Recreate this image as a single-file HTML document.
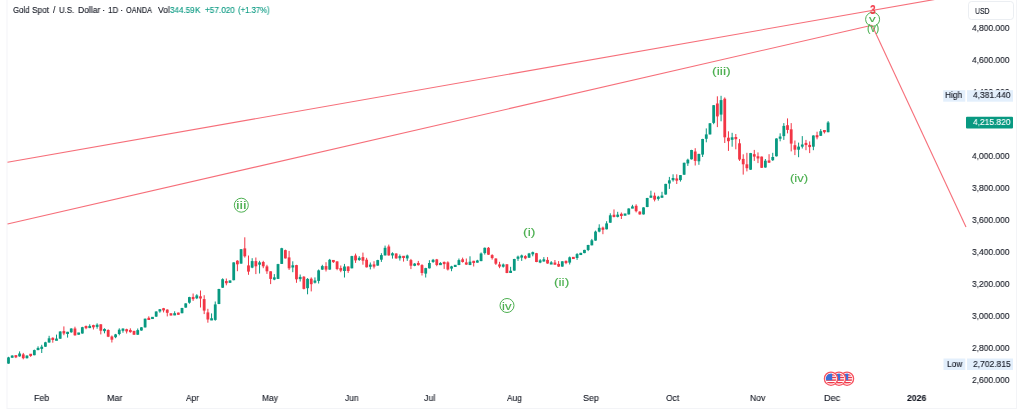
<!DOCTYPE html>
<html><head><meta charset="utf-8">
<style>
html,body{margin:0;padding:0;background:#fff;}
body{width:1024px;height:415px;overflow:hidden;position:relative;font-family:"Liberation Sans",sans-serif;}
#wrap{position:absolute;left:0;top:0;width:1024px;height:415px;filter:blur(0.3px);background:#fff;}
svg{position:absolute;left:0;top:0;}
.tx{position:absolute;white-space:pre;line-height:1;transform-origin:0 0;will-change:transform;-webkit-text-stroke:0.12px currentColor;}
.title{left:13px;top:4px;font-size:8.6px;color:#434651;line-height:12px;}
.title .g{color:#089981;}
.pl{position:absolute;right:14px;width:60px;text-align:right;font-size:8.8px;line-height:12px;color:#131722;}
.ml{position:absolute;top:392px;width:40px;text-align:center;font-size:8.6px;line-height:12px;color:#131722;}
.ml.b{font-weight:bold;}
.tag{position:absolute;font-size:8.8px;line-height:12px;color:#131722;}
.wl{position:absolute;font-size:10px;line-height:12px;color:#4caf50;text-align:center;width:30px;}
</style></head><body><div id="wrap">
<span class="tx" style="left:972.3px;top:87px;font-size:9.4px;color:#131722;transform:scale(0.899,1)">4,400.000</span>
<svg width="1024" height="415" viewBox="0 0 1024 415">
<rect x="7" y="-1" width="1009.5" height="409.5" fill="none" stroke="#f3f4f7" stroke-width="1"/>
<rect x="968.5" y="1.5" width="45" height="18" rx="3" fill="#fff" stroke="#e3e6ec" stroke-width="0.7"/>
<line x1="7.5" y1="162.3" x2="960" y2="-4.959000000000003" stroke="#f23645" stroke-width="1.1" stroke-opacity="0.72"/><line x1="7.5" y1="224.0" x2="872" y2="25.2" stroke="#f23645" stroke-width="1.1" stroke-opacity="0.72"/><line x1="872" y1="25.2" x2="966" y2="227" stroke="#f23645" stroke-width="1.1" stroke-opacity="0.72"/>
<rect x="8.00" y="356.80" width="1.0" height="6.90" fill="#089981"/>
<rect x="7.10" y="357.40" width="2.8" height="6.20" fill="#089981"/>
<rect x="11.69" y="355.30" width="1.0" height="2.40" fill="#089981"/>
<rect x="10.79" y="355.55" width="2.8" height="2.20" fill="#089981"/>
<rect x="15.38" y="355.50" width="1.0" height="2.60" fill="#f23645"/>
<rect x="14.48" y="355.15" width="2.8" height="2.20" fill="#f23645"/>
<rect x="19.08" y="351.40" width="1.0" height="5.30" fill="#089981"/>
<rect x="18.18" y="353.50" width="2.8" height="2.90" fill="#089981"/>
<rect x="22.77" y="352.90" width="1.0" height="6.40" fill="#f23645"/>
<rect x="21.87" y="354.40" width="2.8" height="3.80" fill="#f23645"/>
<rect x="26.46" y="355.30" width="1.0" height="3.20" fill="#089981"/>
<rect x="25.56" y="355.60" width="2.8" height="2.60" fill="#089981"/>
<rect x="30.15" y="354.30" width="1.0" height="2.60" fill="#f23645"/>
<rect x="29.25" y="353.75" width="2.8" height="2.20" fill="#f23645"/>
<rect x="33.84" y="349.60" width="1.0" height="5.70" fill="#089981"/>
<rect x="32.94" y="350.10" width="2.8" height="5.10" fill="#089981"/>
<rect x="37.54" y="346.30" width="1.0" height="3.90" fill="#089981"/>
<rect x="36.64" y="347.90" width="2.8" height="2.20" fill="#089981"/>
<rect x="41.23" y="344.80" width="1.0" height="8.20" fill="#089981"/>
<rect x="40.33" y="346.70" width="2.8" height="2.20" fill="#089981"/>
<rect x="44.92" y="341.80" width="1.0" height="5.10" fill="#089981"/>
<rect x="44.02" y="342.30" width="2.8" height="4.40" fill="#089981"/>
<rect x="48.61" y="335.80" width="1.0" height="6.90" fill="#089981"/>
<rect x="47.71" y="338.30" width="2.8" height="4.20" fill="#089981"/>
<rect x="52.30" y="337.30" width="1.0" height="5.40" fill="#f23645"/>
<rect x="51.40" y="337.80" width="2.8" height="2.20" fill="#f23645"/>
<rect x="56.00" y="334.60" width="1.0" height="5.60" fill="#089981"/>
<rect x="55.10" y="338.60" width="2.8" height="2.20" fill="#089981"/>
<rect x="59.69" y="331.30" width="1.0" height="7.60" fill="#089981"/>
<rect x="58.79" y="331.50" width="2.8" height="7.20" fill="#089981"/>
<rect x="63.38" y="326.40" width="1.0" height="8.80" fill="#f23645"/>
<rect x="62.48" y="331.10" width="2.8" height="2.40" fill="#f23645"/>
<rect x="67.07" y="331.80" width="1.0" height="5.80" fill="#089981"/>
<rect x="66.17" y="331.80" width="2.8" height="2.20" fill="#089981"/>
<rect x="70.76" y="328.30" width="1.0" height="4.40" fill="#089981"/>
<rect x="69.86" y="328.50" width="2.8" height="3.80" fill="#089981"/>
<rect x="74.46" y="326.70" width="1.0" height="9.00" fill="#f23645"/>
<rect x="73.56" y="328.50" width="2.8" height="6.80" fill="#f23645"/>
<rect x="78.15" y="332.80" width="1.0" height="1.90" fill="#089981"/>
<rect x="77.25" y="332.50" width="2.8" height="2.20" fill="#089981"/>
<rect x="81.84" y="326.80" width="1.0" height="6.90" fill="#089981"/>
<rect x="80.94" y="327.20" width="2.8" height="6.30" fill="#089981"/>
<rect x="85.53" y="325.50" width="1.0" height="3.70" fill="#f23645"/>
<rect x="84.63" y="326.00" width="2.8" height="2.20" fill="#f23645"/>
<rect x="89.22" y="324.30" width="1.0" height="3.80" fill="#089981"/>
<rect x="88.32" y="325.90" width="2.8" height="2.20" fill="#089981"/>
<rect x="92.92" y="324.70" width="1.0" height="4.80" fill="#f23645"/>
<rect x="92.02" y="325.10" width="2.8" height="2.20" fill="#f23645"/>
<rect x="96.61" y="323.30" width="1.0" height="5.40" fill="#089981"/>
<rect x="95.71" y="324.70" width="2.8" height="2.20" fill="#089981"/>
<rect x="100.30" y="324.30" width="1.0" height="10.10" fill="#f23645"/>
<rect x="99.40" y="324.30" width="2.8" height="6.40" fill="#f23645"/>
<rect x="103.99" y="328.30" width="1.0" height="5.00" fill="#089981"/>
<rect x="103.09" y="328.95" width="2.8" height="2.20" fill="#089981"/>
<rect x="107.68" y="329.30" width="1.0" height="7.80" fill="#f23645"/>
<rect x="106.78" y="330.00" width="2.8" height="6.70" fill="#f23645"/>
<rect x="111.38" y="335.50" width="1.0" height="7.00" fill="#f23645"/>
<rect x="110.48" y="336.50" width="2.8" height="3.20" fill="#f23645"/>
<rect x="115.07" y="333.90" width="1.0" height="4.30" fill="#089981"/>
<rect x="114.17" y="334.40" width="2.8" height="2.80" fill="#089981"/>
<rect x="118.76" y="328.30" width="1.0" height="7.00" fill="#089981"/>
<rect x="117.86" y="329.70" width="2.8" height="4.30" fill="#089981"/>
<rect x="122.45" y="328.30" width="1.0" height="4.40" fill="#089981"/>
<rect x="121.55" y="328.60" width="2.8" height="2.20" fill="#089981"/>
<rect x="126.14" y="328.70" width="1.0" height="4.80" fill="#f23645"/>
<rect x="125.24" y="329.20" width="2.8" height="2.20" fill="#f23645"/>
<rect x="129.84" y="328.30" width="1.0" height="4.40" fill="#f23645"/>
<rect x="128.94" y="329.95" width="2.8" height="2.20" fill="#f23645"/>
<rect x="133.53" y="330.80" width="1.0" height="4.10" fill="#f23645"/>
<rect x="132.63" y="330.90" width="2.8" height="3.80" fill="#f23645"/>
<rect x="137.22" y="328.50" width="1.0" height="6.40" fill="#089981"/>
<rect x="136.32" y="330.10" width="2.8" height="4.60" fill="#089981"/>
<rect x="140.91" y="327.10" width="1.0" height="3.60" fill="#089981"/>
<rect x="140.01" y="327.30" width="2.8" height="3.20" fill="#089981"/>
<rect x="144.60" y="318.60" width="1.0" height="8.90" fill="#089981"/>
<rect x="143.70" y="318.70" width="2.8" height="8.70" fill="#089981"/>
<rect x="148.30" y="316.30" width="1.0" height="3.20" fill="#f23645"/>
<rect x="147.40" y="317.80" width="2.8" height="2.20" fill="#f23645"/>
<rect x="151.99" y="317.30" width="1.0" height="1.40" fill="#089981"/>
<rect x="151.09" y="316.85" width="2.8" height="2.20" fill="#089981"/>
<rect x="155.68" y="311.30" width="1.0" height="5.60" fill="#089981"/>
<rect x="154.78" y="311.50" width="2.8" height="5.10" fill="#089981"/>
<rect x="159.37" y="309.10" width="1.0" height="3.60" fill="#089981"/>
<rect x="158.47" y="309.25" width="2.8" height="2.20" fill="#089981"/>
<rect x="163.06" y="307.90" width="1.0" height="4.50" fill="#f23645"/>
<rect x="162.16" y="308.20" width="2.8" height="2.20" fill="#f23645"/>
<rect x="166.76" y="309.30" width="1.0" height="7.10" fill="#f23645"/>
<rect x="165.86" y="309.60" width="2.8" height="3.20" fill="#f23645"/>
<rect x="170.45" y="313.30" width="1.0" height="2.20" fill="#f23645"/>
<rect x="169.55" y="313.30" width="2.8" height="2.20" fill="#f23645"/>
<rect x="174.14" y="311.30" width="1.0" height="3.90" fill="#089981"/>
<rect x="173.24" y="313.20" width="2.8" height="2.20" fill="#089981"/>
<rect x="177.83" y="312.60" width="1.0" height="2.10" fill="#f23645"/>
<rect x="176.93" y="312.60" width="2.8" height="2.20" fill="#f23645"/>
<rect x="181.52" y="307.80" width="1.0" height="5.50" fill="#089981"/>
<rect x="180.62" y="308.00" width="2.8" height="5.20" fill="#089981"/>
<rect x="185.22" y="303.30" width="1.0" height="4.40" fill="#089981"/>
<rect x="184.32" y="303.40" width="2.8" height="4.20" fill="#089981"/>
<rect x="188.91" y="296.80" width="1.0" height="6.90" fill="#089981"/>
<rect x="188.01" y="297.10" width="2.8" height="5.60" fill="#089981"/>
<rect x="192.60" y="293.50" width="1.0" height="7.40" fill="#f23645"/>
<rect x="191.70" y="296.95" width="2.8" height="2.20" fill="#f23645"/>
<rect x="196.29" y="294.20" width="1.0" height="4.90" fill="#089981"/>
<rect x="195.39" y="295.40" width="2.8" height="2.90" fill="#089981"/>
<rect x="199.98" y="290.50" width="1.0" height="17.00" fill="#f23645"/>
<rect x="199.08" y="296.30" width="2.8" height="2.20" fill="#f23645"/>
<rect x="203.68" y="295.20" width="1.0" height="18.90" fill="#f23645"/>
<rect x="202.78" y="299.10" width="2.8" height="11.50" fill="#f23645"/>
<rect x="207.37" y="308.80" width="1.0" height="13.90" fill="#f23645"/>
<rect x="206.47" y="312.40" width="2.8" height="7.10" fill="#f23645"/>
<rect x="211.06" y="313.40" width="1.0" height="6.70" fill="#089981"/>
<rect x="210.16" y="318.25" width="2.8" height="2.20" fill="#089981"/>
<rect x="214.75" y="301.50" width="1.0" height="19.20" fill="#089981"/>
<rect x="213.85" y="304.40" width="2.8" height="15.50" fill="#089981"/>
<rect x="218.44" y="288.80" width="1.0" height="15.40" fill="#089981"/>
<rect x="217.54" y="289.00" width="2.8" height="15.00" fill="#089981"/>
<rect x="222.14" y="278.30" width="1.0" height="9.60" fill="#089981"/>
<rect x="221.24" y="279.20" width="2.8" height="8.50" fill="#089981"/>
<rect x="225.83" y="278.50" width="1.0" height="6.80" fill="#f23645"/>
<rect x="224.93" y="281.05" width="2.8" height="2.20" fill="#f23645"/>
<rect x="229.52" y="280.30" width="1.0" height="2.70" fill="#089981"/>
<rect x="228.62" y="280.50" width="2.8" height="2.30" fill="#089981"/>
<rect x="233.21" y="262.30" width="1.0" height="18.00" fill="#089981"/>
<rect x="232.31" y="262.40" width="2.8" height="17.80" fill="#089981"/>
<rect x="236.90" y="260.20" width="1.0" height="11.00" fill="#f23645"/>
<rect x="236.00" y="260.70" width="2.8" height="3.60" fill="#f23645"/>
<rect x="240.60" y="249.10" width="1.0" height="14.60" fill="#089981"/>
<rect x="239.70" y="249.20" width="2.8" height="14.40" fill="#089981"/>
<rect x="244.29" y="237.30" width="1.0" height="20.30" fill="#f23645"/>
<rect x="243.39" y="248.40" width="2.8" height="7.90" fill="#f23645"/>
<rect x="247.98" y="255.50" width="1.0" height="19.30" fill="#f23645"/>
<rect x="247.08" y="265.40" width="2.8" height="6.20" fill="#f23645"/>
<rect x="251.67" y="258.20" width="1.0" height="10.00" fill="#089981"/>
<rect x="250.77" y="261.10" width="2.8" height="6.50" fill="#089981"/>
<rect x="255.36" y="257.50" width="1.0" height="16.60" fill="#f23645"/>
<rect x="254.46" y="261.10" width="2.8" height="5.20" fill="#f23645"/>
<rect x="259.06" y="260.80" width="1.0" height="12.70" fill="#089981"/>
<rect x="258.16" y="262.40" width="2.8" height="2.30" fill="#089981"/>
<rect x="262.75" y="260.80" width="1.0" height="7.40" fill="#f23645"/>
<rect x="261.85" y="262.00" width="2.8" height="4.30" fill="#f23645"/>
<rect x="266.44" y="264.80" width="1.0" height="9.10" fill="#f23645"/>
<rect x="265.54" y="266.40" width="2.8" height="4.90" fill="#f23645"/>
<rect x="270.13" y="271.30" width="1.0" height="12.80" fill="#f23645"/>
<rect x="269.23" y="271.30" width="2.8" height="7.60" fill="#f23645"/>
<rect x="273.82" y="274.10" width="1.0" height="6.10" fill="#089981"/>
<rect x="272.92" y="277.35" width="2.8" height="2.20" fill="#089981"/>
<rect x="277.52" y="263.80" width="1.0" height="15.20" fill="#089981"/>
<rect x="276.62" y="264.10" width="2.8" height="14.80" fill="#089981"/>
<rect x="281.21" y="247.80" width="1.0" height="16.20" fill="#089981"/>
<rect x="280.31" y="248.20" width="2.8" height="15.70" fill="#089981"/>
<rect x="284.90" y="249.60" width="1.0" height="8.90" fill="#f23645"/>
<rect x="284.00" y="250.10" width="2.8" height="8.30" fill="#f23645"/>
<rect x="288.59" y="250.90" width="1.0" height="19.00" fill="#f23645"/>
<rect x="287.69" y="257.40" width="2.8" height="10.90" fill="#f23645"/>
<rect x="292.28" y="261.30" width="1.0" height="10.90" fill="#089981"/>
<rect x="291.38" y="265.30" width="2.8" height="2.20" fill="#089981"/>
<rect x="295.98" y="264.80" width="1.0" height="18.00" fill="#f23645"/>
<rect x="295.08" y="265.10" width="2.8" height="14.20" fill="#f23645"/>
<rect x="299.67" y="274.50" width="1.0" height="7.00" fill="#089981"/>
<rect x="298.77" y="276.90" width="2.8" height="2.20" fill="#089981"/>
<rect x="303.36" y="276.10" width="1.0" height="13.30" fill="#f23645"/>
<rect x="302.46" y="276.70" width="2.8" height="12.20" fill="#f23645"/>
<rect x="307.05" y="278.10" width="1.0" height="16.20" fill="#089981"/>
<rect x="306.15" y="278.90" width="2.8" height="9.30" fill="#089981"/>
<rect x="310.74" y="277.40" width="1.0" height="14.00" fill="#f23645"/>
<rect x="309.84" y="278.70" width="2.8" height="5.50" fill="#f23645"/>
<rect x="314.44" y="277.40" width="1.0" height="6.10" fill="#089981"/>
<rect x="313.54" y="280.50" width="2.8" height="2.20" fill="#089981"/>
<rect x="318.13" y="269.50" width="1.0" height="14.00" fill="#089981"/>
<rect x="317.23" y="270.40" width="2.8" height="10.50" fill="#089981"/>
<rect x="321.82" y="264.80" width="1.0" height="5.10" fill="#089981"/>
<rect x="320.92" y="266.10" width="2.8" height="3.50" fill="#089981"/>
<rect x="325.51" y="262.20" width="1.0" height="9.30" fill="#f23645"/>
<rect x="324.61" y="266.10" width="2.8" height="3.50" fill="#f23645"/>
<rect x="329.20" y="258.90" width="1.0" height="10.80" fill="#089981"/>
<rect x="328.30" y="259.80" width="2.8" height="9.80" fill="#089981"/>
<rect x="332.90" y="260.20" width="1.0" height="2.70" fill="#f23645"/>
<rect x="332.00" y="259.95" width="2.8" height="2.20" fill="#f23645"/>
<rect x="336.59" y="261.30" width="1.0" height="8.90" fill="#f23645"/>
<rect x="335.69" y="261.40" width="2.8" height="7.60" fill="#f23645"/>
<rect x="340.28" y="265.50" width="1.0" height="6.70" fill="#f23645"/>
<rect x="339.38" y="268.10" width="2.8" height="2.50" fill="#f23645"/>
<rect x="343.97" y="263.90" width="1.0" height="13.60" fill="#089981"/>
<rect x="343.07" y="266.50" width="2.8" height="4.50" fill="#089981"/>
<rect x="347.66" y="266.30" width="1.0" height="6.60" fill="#f23645"/>
<rect x="346.76" y="266.50" width="2.8" height="4.50" fill="#f23645"/>
<rect x="351.36" y="255.80" width="1.0" height="12.60" fill="#089981"/>
<rect x="350.46" y="256.10" width="2.8" height="12.20" fill="#089981"/>
<rect x="355.05" y="253.60" width="1.0" height="9.30" fill="#f23645"/>
<rect x="354.15" y="255.50" width="2.8" height="4.90" fill="#f23645"/>
<rect x="358.74" y="256.20" width="1.0" height="4.70" fill="#089981"/>
<rect x="357.84" y="257.80" width="2.8" height="2.20" fill="#089981"/>
<rect x="362.43" y="252.60" width="1.0" height="12.10" fill="#f23645"/>
<rect x="361.53" y="257.10" width="2.8" height="3.60" fill="#f23645"/>
<rect x="366.12" y="257.80" width="1.0" height="9.70" fill="#f23645"/>
<rect x="365.22" y="259.70" width="2.8" height="7.60" fill="#f23645"/>
<rect x="369.82" y="262.50" width="1.0" height="6.90" fill="#089981"/>
<rect x="368.92" y="264.60" width="2.8" height="2.20" fill="#089981"/>
<rect x="373.51" y="261.20" width="1.0" height="7.30" fill="#f23645"/>
<rect x="372.61" y="264.40" width="2.8" height="2.20" fill="#f23645"/>
<rect x="377.20" y="259.80" width="1.0" height="5.90" fill="#089981"/>
<rect x="376.30" y="260.10" width="2.8" height="5.50" fill="#089981"/>
<rect x="380.89" y="253.20" width="1.0" height="8.70" fill="#089981"/>
<rect x="379.99" y="255.10" width="2.8" height="4.60" fill="#089981"/>
<rect x="384.58" y="245.60" width="1.0" height="9.90" fill="#089981"/>
<rect x="383.68" y="247.80" width="2.8" height="7.60" fill="#089981"/>
<rect x="388.28" y="244.60" width="1.0" height="11.10" fill="#f23645"/>
<rect x="387.38" y="246.50" width="2.8" height="8.90" fill="#f23645"/>
<rect x="391.97" y="252.30" width="1.0" height="6.30" fill="#089981"/>
<rect x="391.07" y="253.25" width="2.8" height="2.20" fill="#089981"/>
<rect x="395.66" y="253.30" width="1.0" height="5.40" fill="#f23645"/>
<rect x="394.76" y="253.50" width="2.8" height="4.90" fill="#f23645"/>
<rect x="399.35" y="254.50" width="1.0" height="6.10" fill="#089981"/>
<rect x="398.45" y="256.05" width="2.8" height="2.20" fill="#089981"/>
<rect x="403.04" y="256.20" width="1.0" height="5.40" fill="#f23645"/>
<rect x="402.14" y="255.80" width="2.8" height="2.20" fill="#f23645"/>
<rect x="406.74" y="254.60" width="1.0" height="6.30" fill="#089981"/>
<rect x="405.84" y="255.50" width="2.8" height="2.90" fill="#089981"/>
<rect x="410.43" y="258.90" width="1.0" height="10.20" fill="#f23645"/>
<rect x="409.53" y="260.10" width="2.8" height="5.60" fill="#f23645"/>
<rect x="414.12" y="263.10" width="1.0" height="3.10" fill="#089981"/>
<rect x="413.22" y="263.60" width="2.8" height="2.20" fill="#089981"/>
<rect x="417.81" y="260.90" width="1.0" height="4.70" fill="#f23645"/>
<rect x="416.91" y="262.95" width="2.8" height="2.20" fill="#f23645"/>
<rect x="421.50" y="264.20" width="1.0" height="11.30" fill="#f23645"/>
<rect x="420.60" y="265.10" width="2.8" height="7.90" fill="#f23645"/>
<rect x="425.20" y="267.80" width="1.0" height="9.70" fill="#089981"/>
<rect x="424.30" y="268.10" width="2.8" height="5.50" fill="#089981"/>
<rect x="428.89" y="260.20" width="1.0" height="8.30" fill="#089981"/>
<rect x="427.99" y="263.00" width="2.8" height="5.30" fill="#089981"/>
<rect x="432.58" y="258.90" width="1.0" height="4.00" fill="#089981"/>
<rect x="431.68" y="259.80" width="2.8" height="2.20" fill="#089981"/>
<rect x="436.27" y="258.90" width="1.0" height="7.30" fill="#f23645"/>
<rect x="435.37" y="259.40" width="2.8" height="5.60" fill="#f23645"/>
<rect x="439.96" y="262.20" width="1.0" height="2.70" fill="#089981"/>
<rect x="439.06" y="262.95" width="2.8" height="2.20" fill="#089981"/>
<rect x="443.66" y="261.50" width="1.0" height="7.40" fill="#f23645"/>
<rect x="442.76" y="261.95" width="2.8" height="2.20" fill="#f23645"/>
<rect x="447.35" y="261.30" width="1.0" height="9.20" fill="#f23645"/>
<rect x="446.45" y="262.40" width="2.8" height="7.10" fill="#f23645"/>
<rect x="451.04" y="265.80" width="1.0" height="5.40" fill="#089981"/>
<rect x="450.14" y="266.40" width="2.8" height="2.20" fill="#089981"/>
<rect x="454.73" y="265.10" width="1.0" height="1.60" fill="#089981"/>
<rect x="453.83" y="264.80" width="2.8" height="2.20" fill="#089981"/>
<rect x="458.42" y="258.50" width="1.0" height="6.70" fill="#089981"/>
<rect x="457.52" y="260.10" width="2.8" height="4.90" fill="#089981"/>
<rect x="462.12" y="257.60" width="1.0" height="5.00" fill="#f23645"/>
<rect x="461.22" y="259.30" width="2.8" height="2.70" fill="#f23645"/>
<rect x="465.81" y="258.50" width="1.0" height="6.40" fill="#f23645"/>
<rect x="464.91" y="262.40" width="2.8" height="2.20" fill="#f23645"/>
<rect x="469.50" y="256.30" width="1.0" height="8.90" fill="#089981"/>
<rect x="468.60" y="261.70" width="2.8" height="3.30" fill="#089981"/>
<rect x="473.19" y="260.80" width="1.0" height="5.70" fill="#f23645"/>
<rect x="472.29" y="260.80" width="2.8" height="2.20" fill="#f23645"/>
<rect x="476.88" y="259.80" width="1.0" height="2.80" fill="#089981"/>
<rect x="475.98" y="260.45" width="2.8" height="2.20" fill="#089981"/>
<rect x="480.58" y="252.50" width="1.0" height="8.70" fill="#089981"/>
<rect x="479.68" y="253.50" width="2.8" height="7.60" fill="#089981"/>
<rect x="484.27" y="247.50" width="1.0" height="7.10" fill="#089981"/>
<rect x="483.37" y="247.80" width="2.8" height="5.30" fill="#089981"/>
<rect x="487.96" y="247.00" width="1.0" height="7.90" fill="#f23645"/>
<rect x="487.06" y="247.80" width="2.8" height="6.90" fill="#f23645"/>
<rect x="491.65" y="254.20" width="1.0" height="5.40" fill="#f23645"/>
<rect x="490.75" y="255.10" width="2.8" height="3.00" fill="#f23645"/>
<rect x="495.34" y="258.30" width="1.0" height="6.60" fill="#f23645"/>
<rect x="494.44" y="258.50" width="2.8" height="5.20" fill="#f23645"/>
<rect x="499.04" y="261.80" width="1.0" height="6.40" fill="#f23645"/>
<rect x="498.14" y="264.40" width="2.8" height="2.20" fill="#f23645"/>
<rect x="502.73" y="263.50" width="1.0" height="4.10" fill="#089981"/>
<rect x="501.83" y="264.50" width="2.8" height="2.20" fill="#089981"/>
<rect x="506.42" y="264.10" width="1.0" height="9.10" fill="#f23645"/>
<rect x="505.52" y="264.30" width="2.8" height="8.70" fill="#f23645"/>
<rect x="510.11" y="266.80" width="1.0" height="6.10" fill="#089981"/>
<rect x="509.21" y="270.75" width="2.8" height="2.20" fill="#089981"/>
<rect x="513.80" y="258.80" width="1.0" height="11.90" fill="#089981"/>
<rect x="512.90" y="259.00" width="2.8" height="11.60" fill="#089981"/>
<rect x="517.50" y="255.60" width="1.0" height="5.30" fill="#089981"/>
<rect x="516.60" y="256.60" width="2.8" height="2.20" fill="#089981"/>
<rect x="521.19" y="254.60" width="1.0" height="6.30" fill="#089981"/>
<rect x="520.29" y="255.45" width="2.8" height="2.20" fill="#089981"/>
<rect x="524.88" y="255.20" width="1.0" height="4.10" fill="#f23645"/>
<rect x="523.98" y="256.10" width="2.8" height="2.30" fill="#f23645"/>
<rect x="528.57" y="252.90" width="1.0" height="5.00" fill="#089981"/>
<rect x="527.67" y="253.50" width="2.8" height="4.20" fill="#089981"/>
<rect x="532.26" y="251.60" width="1.0" height="4.70" fill="#089981"/>
<rect x="531.36" y="252.15" width="2.8" height="2.20" fill="#089981"/>
<rect x="535.96" y="252.90" width="1.0" height="9.30" fill="#f23645"/>
<rect x="535.06" y="253.20" width="2.8" height="8.80" fill="#f23645"/>
<rect x="539.65" y="259.10" width="1.0" height="4.10" fill="#089981"/>
<rect x="538.75" y="260.35" width="2.8" height="2.20" fill="#089981"/>
<rect x="543.34" y="257.10" width="1.0" height="4.50" fill="#089981"/>
<rect x="542.44" y="259.30" width="2.8" height="2.20" fill="#089981"/>
<rect x="547.03" y="257.10" width="1.0" height="6.60" fill="#f23645"/>
<rect x="546.13" y="259.90" width="2.8" height="3.60" fill="#f23645"/>
<rect x="550.72" y="261.10" width="1.0" height="2.50" fill="#089981"/>
<rect x="549.82" y="262.35" width="2.8" height="2.20" fill="#089981"/>
<rect x="554.42" y="260.00" width="1.0" height="4.50" fill="#f23645"/>
<rect x="553.52" y="262.55" width="2.8" height="2.20" fill="#f23645"/>
<rect x="558.11" y="261.10" width="1.0" height="5.80" fill="#f23645"/>
<rect x="557.21" y="263.90" width="2.8" height="2.70" fill="#f23645"/>
<rect x="561.80" y="261.30" width="1.0" height="5.40" fill="#089981"/>
<rect x="560.90" y="261.30" width="2.8" height="5.30" fill="#089981"/>
<rect x="565.49" y="260.50" width="1.0" height="3.70" fill="#f23645"/>
<rect x="564.59" y="260.85" width="2.8" height="2.20" fill="#f23645"/>
<rect x="569.18" y="256.50" width="1.0" height="8.00" fill="#089981"/>
<rect x="568.28" y="257.30" width="2.8" height="5.30" fill="#089981"/>
<rect x="572.88" y="257.10" width="1.0" height="1.80" fill="#f23645"/>
<rect x="571.98" y="256.85" width="2.8" height="2.20" fill="#f23645"/>
<rect x="576.57" y="253.10" width="1.0" height="6.80" fill="#089981"/>
<rect x="575.67" y="254.10" width="2.8" height="3.90" fill="#089981"/>
<rect x="580.26" y="252.80" width="1.0" height="2.20" fill="#089981"/>
<rect x="579.36" y="252.85" width="2.8" height="2.20" fill="#089981"/>
<rect x="583.95" y="249.80" width="1.0" height="3.40" fill="#089981"/>
<rect x="583.05" y="249.90" width="2.8" height="3.20" fill="#089981"/>
<rect x="587.64" y="244.80" width="1.0" height="6.30" fill="#089981"/>
<rect x="586.74" y="245.00" width="2.8" height="5.00" fill="#089981"/>
<rect x="591.34" y="238.90" width="1.0" height="6.50" fill="#089981"/>
<rect x="590.44" y="240.30" width="2.8" height="5.00" fill="#089981"/>
<rect x="595.03" y="230.60" width="1.0" height="10.10" fill="#089981"/>
<rect x="594.13" y="231.60" width="2.8" height="9.00" fill="#089981"/>
<rect x="598.72" y="224.30" width="1.0" height="8.00" fill="#089981"/>
<rect x="597.82" y="227.80" width="2.8" height="3.80" fill="#089981"/>
<rect x="602.41" y="226.60" width="1.0" height="7.60" fill="#f23645"/>
<rect x="601.51" y="227.60" width="2.8" height="2.20" fill="#f23645"/>
<rect x="606.10" y="221.20" width="1.0" height="8.20" fill="#089981"/>
<rect x="605.20" y="223.40" width="2.8" height="5.90" fill="#089981"/>
<rect x="609.80" y="213.30" width="1.0" height="9.50" fill="#089981"/>
<rect x="608.90" y="215.30" width="2.8" height="7.40" fill="#089981"/>
<rect x="613.49" y="209.40" width="1.0" height="8.00" fill="#f23645"/>
<rect x="612.59" y="214.75" width="2.8" height="2.20" fill="#f23645"/>
<rect x="617.18" y="211.80" width="1.0" height="5.60" fill="#089981"/>
<rect x="616.28" y="214.65" width="2.8" height="2.20" fill="#089981"/>
<rect x="620.87" y="212.50" width="1.0" height="6.50" fill="#f23645"/>
<rect x="619.97" y="213.80" width="2.8" height="2.20" fill="#f23645"/>
<rect x="624.56" y="213.80" width="1.0" height="1.60" fill="#089981"/>
<rect x="623.66" y="213.50" width="2.8" height="2.20" fill="#089981"/>
<rect x="628.26" y="208.30" width="1.0" height="6.20" fill="#089981"/>
<rect x="627.36" y="208.50" width="2.8" height="5.90" fill="#089981"/>
<rect x="631.95" y="204.80" width="1.0" height="3.40" fill="#089981"/>
<rect x="631.05" y="206.40" width="2.8" height="2.20" fill="#089981"/>
<rect x="635.64" y="204.30" width="1.0" height="8.10" fill="#f23645"/>
<rect x="634.74" y="205.80" width="2.8" height="5.40" fill="#f23645"/>
<rect x="639.33" y="211.30" width="1.0" height="3.40" fill="#f23645"/>
<rect x="638.43" y="211.60" width="2.8" height="2.80" fill="#f23645"/>
<rect x="643.02" y="207.30" width="1.0" height="7.20" fill="#089981"/>
<rect x="642.12" y="207.40" width="2.8" height="7.00" fill="#089981"/>
<rect x="646.72" y="197.80" width="1.0" height="9.40" fill="#089981"/>
<rect x="645.82" y="198.00" width="2.8" height="9.00" fill="#089981"/>
<rect x="650.41" y="190.70" width="1.0" height="7.00" fill="#089981"/>
<rect x="649.51" y="195.55" width="2.8" height="2.20" fill="#089981"/>
<rect x="654.10" y="192.60" width="1.0" height="8.80" fill="#f23645"/>
<rect x="653.20" y="195.70" width="2.8" height="3.90" fill="#f23645"/>
<rect x="657.79" y="195.80" width="1.0" height="4.80" fill="#089981"/>
<rect x="656.89" y="196.70" width="2.8" height="2.20" fill="#089981"/>
<rect x="661.48" y="191.80" width="1.0" height="5.90" fill="#089981"/>
<rect x="660.58" y="195.55" width="2.8" height="2.20" fill="#089981"/>
<rect x="665.18" y="183.80" width="1.0" height="10.90" fill="#089981"/>
<rect x="664.28" y="183.90" width="2.8" height="10.60" fill="#089981"/>
<rect x="668.87" y="176.90" width="1.0" height="12.00" fill="#089981"/>
<rect x="667.97" y="180.30" width="2.8" height="3.20" fill="#089981"/>
<rect x="672.56" y="174.30" width="1.0" height="7.30" fill="#089981"/>
<rect x="671.66" y="178.00" width="2.8" height="2.20" fill="#089981"/>
<rect x="676.25" y="174.30" width="1.0" height="9.70" fill="#f23645"/>
<rect x="675.35" y="178.45" width="2.8" height="2.20" fill="#f23645"/>
<rect x="679.94" y="175.00" width="1.0" height="6.60" fill="#089981"/>
<rect x="679.04" y="175.10" width="2.8" height="5.00" fill="#089981"/>
<rect x="683.64" y="162.60" width="1.0" height="12.30" fill="#089981"/>
<rect x="682.74" y="162.80" width="2.8" height="11.90" fill="#089981"/>
<rect x="687.33" y="158.70" width="1.0" height="7.20" fill="#089981"/>
<rect x="686.43" y="159.70" width="2.8" height="3.70" fill="#089981"/>
<rect x="691.02" y="149.80" width="1.0" height="9.70" fill="#089981"/>
<rect x="690.12" y="150.00" width="2.8" height="9.30" fill="#089981"/>
<rect x="694.71" y="148.20" width="1.0" height="17.30" fill="#f23645"/>
<rect x="693.81" y="151.50" width="2.8" height="9.40" fill="#f23645"/>
<rect x="698.40" y="153.80" width="1.0" height="11.00" fill="#089981"/>
<rect x="697.50" y="153.90" width="2.8" height="7.40" fill="#089981"/>
<rect x="702.10" y="138.80" width="1.0" height="18.20" fill="#089981"/>
<rect x="701.20" y="139.00" width="2.8" height="15.60" fill="#089981"/>
<rect x="705.79" y="128.40" width="1.0" height="13.90" fill="#089981"/>
<rect x="704.89" y="134.40" width="2.8" height="4.40" fill="#089981"/>
<rect x="709.48" y="123.10" width="1.0" height="11.40" fill="#089981"/>
<rect x="708.58" y="123.30" width="2.8" height="11.10" fill="#089981"/>
<rect x="713.17" y="105.00" width="1.0" height="19.20" fill="#089981"/>
<rect x="712.27" y="105.20" width="2.8" height="17.70" fill="#089981"/>
<rect x="716.86" y="96.30" width="1.0" height="30.80" fill="#f23645"/>
<rect x="715.96" y="103.50" width="2.8" height="12.90" fill="#f23645"/>
<rect x="720.56" y="95.80" width="1.0" height="25.50" fill="#089981"/>
<rect x="719.66" y="100.10" width="2.8" height="14.50" fill="#089981"/>
<rect x="724.25" y="97.40" width="1.0" height="45.60" fill="#f23645"/>
<rect x="723.35" y="98.70" width="2.8" height="38.60" fill="#f23645"/>
<rect x="727.94" y="131.30" width="1.0" height="19.60" fill="#f23645"/>
<rect x="727.04" y="137.70" width="2.8" height="3.50" fill="#f23645"/>
<rect x="731.63" y="132.80" width="1.0" height="13.90" fill="#089981"/>
<rect x="730.73" y="137.30" width="2.8" height="2.50" fill="#089981"/>
<rect x="735.32" y="134.00" width="1.0" height="15.30" fill="#f23645"/>
<rect x="734.42" y="137.00" width="2.8" height="2.20" fill="#f23645"/>
<rect x="739.02" y="139.10" width="1.0" height="21.80" fill="#f23645"/>
<rect x="738.12" y="143.30" width="2.8" height="16.20" fill="#f23645"/>
<rect x="742.71" y="154.30" width="1.0" height="20.30" fill="#f23645"/>
<rect x="741.81" y="158.90" width="2.8" height="5.40" fill="#f23645"/>
<rect x="746.40" y="152.80" width="1.0" height="18.60" fill="#f23645"/>
<rect x="745.50" y="164.30" width="2.8" height="3.90" fill="#f23645"/>
<rect x="750.09" y="152.90" width="1.0" height="17.00" fill="#089981"/>
<rect x="749.19" y="153.10" width="2.8" height="16.60" fill="#089981"/>
<rect x="753.78" y="149.90" width="1.0" height="11.00" fill="#f23645"/>
<rect x="752.88" y="154.20" width="2.8" height="2.40" fill="#f23645"/>
<rect x="757.48" y="152.40" width="1.0" height="10.70" fill="#f23645"/>
<rect x="756.58" y="156.25" width="2.8" height="2.20" fill="#f23645"/>
<rect x="761.17" y="156.50" width="1.0" height="11.50" fill="#f23645"/>
<rect x="760.27" y="156.60" width="2.8" height="11.20" fill="#f23645"/>
<rect x="764.86" y="159.00" width="1.0" height="8.70" fill="#089981"/>
<rect x="763.96" y="160.70" width="2.8" height="6.80" fill="#089981"/>
<rect x="768.55" y="154.20" width="1.0" height="8.80" fill="#f23645"/>
<rect x="767.65" y="160.45" width="2.8" height="2.20" fill="#f23645"/>
<rect x="772.24" y="152.80" width="1.0" height="8.10" fill="#089981"/>
<rect x="771.34" y="157.00" width="2.8" height="3.20" fill="#089981"/>
<rect x="775.94" y="138.30" width="1.0" height="18.20" fill="#089981"/>
<rect x="775.04" y="138.50" width="2.8" height="17.80" fill="#089981"/>
<rect x="779.63" y="133.30" width="1.0" height="8.00" fill="#089981"/>
<rect x="778.73" y="136.55" width="2.8" height="2.20" fill="#089981"/>
<rect x="783.32" y="123.10" width="1.0" height="16.80" fill="#089981"/>
<rect x="782.42" y="125.90" width="2.8" height="10.20" fill="#089981"/>
<rect x="787.01" y="118.40" width="1.0" height="15.00" fill="#f23645"/>
<rect x="786.11" y="125.20" width="2.8" height="4.70" fill="#f23645"/>
<rect x="790.70" y="123.10" width="1.0" height="28.30" fill="#f23645"/>
<rect x="789.80" y="129.30" width="2.8" height="14.30" fill="#f23645"/>
<rect x="794.40" y="140.50" width="1.0" height="14.60" fill="#f23645"/>
<rect x="793.50" y="145.20" width="2.8" height="4.50" fill="#f23645"/>
<rect x="798.09" y="142.60" width="1.0" height="14.60" fill="#089981"/>
<rect x="797.19" y="146.60" width="2.8" height="3.10" fill="#089981"/>
<rect x="801.78" y="136.10" width="1.0" height="12.40" fill="#089981"/>
<rect x="800.88" y="144.50" width="2.8" height="2.20" fill="#089981"/>
<rect x="805.47" y="139.90" width="1.0" height="10.30" fill="#f23645"/>
<rect x="804.57" y="142.90" width="2.8" height="2.20" fill="#f23645"/>
<rect x="809.16" y="141.40" width="1.0" height="11.70" fill="#f23645"/>
<rect x="808.26" y="144.90" width="2.8" height="2.20" fill="#f23645"/>
<rect x="812.86" y="135.30" width="1.0" height="14.90" fill="#089981"/>
<rect x="811.96" y="135.50" width="2.8" height="11.20" fill="#089981"/>
<rect x="816.55" y="131.70" width="1.0" height="7.60" fill="#f23645"/>
<rect x="815.65" y="135.15" width="2.8" height="2.20" fill="#f23645"/>
<rect x="820.24" y="129.10" width="1.0" height="6.90" fill="#089981"/>
<rect x="819.34" y="131.20" width="2.8" height="4.60" fill="#089981"/>
<rect x="823.93" y="130.10" width="1.0" height="3.40" fill="#f23645"/>
<rect x="823.03" y="130.00" width="2.8" height="2.20" fill="#f23645"/>
<rect x="827.62" y="121.10" width="1.0" height="11.20" fill="#089981"/>
<rect x="826.72" y="122.50" width="2.8" height="9.70" fill="#089981"/>
<rect x="943.2" y="90.2" width="22.1" height="11.5" fill="#e3effc"/>
<rect x="967" y="90.2" width="46" height="11.5" fill="#e3effc"/>
<rect x="943.5" y="358.5" width="21.8" height="11.5" fill="#e3effc"/>
<rect x="967" y="358.5" width="46" height="11.5" fill="#e3effc"/>
<rect x="966" y="116.8" width="47" height="11.6" rx="1" fill="#089981"/>
<circle cx="241.3" cy="205.2" r="7" fill="none" stroke="#4caf50" stroke-width="1"/>
<circle cx="507" cy="305.5" r="7" fill="none" stroke="#4caf50" stroke-width="1"/>
<circle cx="872.6" cy="19.3" r="7" fill="none" stroke="#4caf50" stroke-width="1"/>
<g>
<circle cx="847" cy="378.7" r="6.6" fill="#fff" stroke="#f7525f" stroke-width="1.3"/>
<clipPath id="fc847"><circle cx="847" cy="378.7" r="5.2"/></clipPath>
<g clip-path="url(#fc847)">
<rect x="841" y="373" width="12" height="12" fill="#fff"/>
<rect x="841" y="374.2" width="12" height="1.4" fill="#f23645"/>
<rect x="841" y="376.8" width="12" height="1.4" fill="#f23645"/>
<rect x="841" y="379.4" width="12" height="1.4" fill="#f23645"/>
<rect x="841" y="382" width="12" height="1.4" fill="#f23645"/>
<rect x="841" y="373" width="7.2" height="7.3" fill="#3d6fd6"/>
</g></g><g>
<circle cx="839" cy="378.7" r="6.6" fill="#fff" stroke="#f7525f" stroke-width="1.3"/>
<clipPath id="fc839"><circle cx="839" cy="378.7" r="5.2"/></clipPath>
<g clip-path="url(#fc839)">
<rect x="833" y="373" width="12" height="12" fill="#fff"/>
<rect x="833" y="374.2" width="12" height="1.4" fill="#f23645"/>
<rect x="833" y="376.8" width="12" height="1.4" fill="#f23645"/>
<rect x="833" y="379.4" width="12" height="1.4" fill="#f23645"/>
<rect x="833" y="382" width="12" height="1.4" fill="#f23645"/>
<rect x="833" y="373" width="7.2" height="7.3" fill="#3d6fd6"/>
</g></g><g>
<circle cx="831" cy="378.7" r="6.6" fill="#fff" stroke="#f7525f" stroke-width="1.3"/>
<clipPath id="fc831"><circle cx="831" cy="378.7" r="5.2"/></clipPath>
<g clip-path="url(#fc831)">
<rect x="825" y="373" width="12" height="12" fill="#fff"/>
<rect x="825" y="374.2" width="12" height="1.4" fill="#f23645"/>
<rect x="825" y="376.8" width="12" height="1.4" fill="#f23645"/>
<rect x="825" y="379.4" width="12" height="1.4" fill="#f23645"/>
<rect x="825" y="382" width="12" height="1.4" fill="#f23645"/>
<rect x="825" y="373" width="7.2" height="7.3" fill="#3d6fd6"/>
</g></g>
</svg>
<span class="tx" style="left:13.00px;top:6px;font-size:8.7px;font-weight:normal;color:#131722;transform:scale(0.8998,1)">Gold</span>
<span class="tx" style="left:32.30px;top:6px;font-size:8.7px;font-weight:normal;color:#131722;transform:scale(0.9530,1)">Spot</span>
<span class="tx" style="left:53.11px;top:6px;font-size:8.7px;font-weight:normal;color:#131722;transform:scale(0.9544,1)">/</span>
<span class="tx" style="left:58.98px;top:6px;font-size:8.7px;font-weight:normal;color:#131722;transform:scale(0.8980,1)">U.S.</span>
<span class="tx" style="left:77.66px;top:6px;font-size:8.7px;font-weight:normal;color:#131722;transform:scale(0.9818,1)">Dollar</span>
<span class="tx" style="left:107.78px;top:6px;font-size:8.7px;font-weight:normal;color:#131722;transform:scale(0.9353,1)">1D</span>
<span class="tx" style="left:125.97px;top:6px;font-size:8.7px;font-weight:normal;color:#131722;transform:scale(0.8437,1)">OANDA</span>
<span class="tx" style="left:157.50px;top:6px;font-size:8.7px;font-weight:normal;color:#131722;transform:scale(0.9660,1)">Vol</span>
<span class="tx" style="left:102.35px;top:6px;font-size:8.7px;font-weight:normal;color:#131722;transform:scale(1.1261,1)">·</span>
<span class="tx" style="left:120.35px;top:6px;font-size:8.7px;font-weight:normal;color:#131722;transform:scale(1.1261,1)">·</span>
<span class="tx" style="left:170.03px;top:6px;font-size:8.7px;font-weight:normal;color:#089981;transform:scale(0.9251,1)">344.59</span>
<span class="tx" style="left:194.78px;top:6px;font-size:8.7px;font-weight:normal;color:#089981;transform:scale(0.9340,1)">K</span>
<span class="tx" style="left:204.71px;top:6px;font-size:8.7px;font-weight:normal;color:#089981;transform:scale(0.9432,1)">+57.020</span>
<span class="tx" style="left:238.47px;top:6px;font-size:8.7px;font-weight:normal;color:#089981;transform:scale(0.8923,1)">(+1.37%)</span>
<span class="tx" style="left:975.34px;top:6px;font-size:9.4px;font-weight:normal;color:#131722;transform:scale(0.7336,1)">USD</span>
<span class="tx" style="left:971.98px;top:23px;font-size:9.4px;font-weight:normal;color:#131722;transform:scale(0.8992,1)">4,800.000</span>
<span class="tx" style="left:971.98px;top:55px;font-size:9.4px;font-weight:normal;color:#131722;transform:scale(0.8992,1)">4,600.000</span>
<span class="tx" style="left:971.98px;top:151px;font-size:9.4px;font-weight:normal;color:#131722;transform:scale(0.8992,1)">4,000.000</span>
<span class="tx" style="left:971.98px;top:183px;font-size:9.4px;font-weight:normal;color:#131722;transform:scale(0.8992,1)">3,800.000</span>
<span class="tx" style="left:971.98px;top:215px;font-size:9.4px;font-weight:normal;color:#131722;transform:scale(0.8992,1)">3,600.000</span>
<span class="tx" style="left:971.98px;top:247px;font-size:9.4px;font-weight:normal;color:#131722;transform:scale(0.8992,1)">3,400.000</span>
<span class="tx" style="left:971.98px;top:279px;font-size:9.4px;font-weight:normal;color:#131722;transform:scale(0.8992,1)">3,200.000</span>
<span class="tx" style="left:971.98px;top:311px;font-size:9.4px;font-weight:normal;color:#131722;transform:scale(0.8992,1)">3,000.000</span>
<span class="tx" style="left:971.98px;top:343px;font-size:9.4px;font-weight:normal;color:#131722;transform:scale(0.8992,1)">2,800.000</span>
<span class="tx" style="left:971.98px;top:375px;font-size:9.4px;font-weight:normal;color:#131722;transform:scale(0.8992,1)">2,600.000</span>
<span class="tx" style="left:972.52px;top:90px;font-size:9.4px;font-weight:normal;color:#131722;transform:scale(0.8992,1)">4,381.440</span>
<span class="tx" style="left:945.21px;top:90px;font-size:9.4px;font-weight:normal;color:#131722;transform:scale(0.8965,1)">High</span>
<span class="tx" style="left:972.52px;top:117px;font-size:9.4px;font-weight:normal;color:#ffffff;transform:scale(0.8992,1)">4,215.820</span>
<span class="tx" style="left:972.53px;top:359px;font-size:9.4px;font-weight:normal;color:#131722;transform:scale(0.9053,1)">2,702.815</span>
<span class="tx" style="left:946.67px;top:359px;font-size:9.4px;font-weight:normal;color:#131722;transform:scale(0.8902,1)">Low</span>
<span class="tx" style="left:33.59px;top:393px;font-size:9.4px;font-weight:normal;color:#131722;transform:scale(0.9429,1)">Feb</span>
<span class="tx" style="left:107.01px;top:393px;font-size:9.4px;font-weight:normal;color:#131722;transform:scale(0.9558,1)">Mar</span>
<span class="tx" style="left:185.97px;top:393px;font-size:9.4px;font-weight:normal;color:#131722;transform:scale(0.8848,1)">Apr</span>
<span class="tx" style="left:261.63px;top:393px;font-size:9.4px;font-weight:normal;color:#131722;transform:scale(0.9025,1)">May</span>
<span class="tx" style="left:345.00px;top:393px;font-size:9.4px;font-weight:normal;color:#131722;transform:scale(0.8917,1)">Jun</span>
<span class="tx" style="left:424.00px;top:393px;font-size:9.4px;font-weight:normal;color:#131722;transform:scale(0.9393,1)">Jul</span>
<span class="tx" style="left:506.52px;top:393px;font-size:9.4px;font-weight:normal;color:#131722;transform:scale(0.8870,1)">Aug</span>
<span class="tx" style="left:582.71px;top:393px;font-size:9.4px;font-weight:normal;color:#131722;transform:scale(0.9526,1)">Sep</span>
<span class="tx" style="left:666.49px;top:393px;font-size:9.4px;font-weight:normal;color:#131722;transform:scale(0.9013,1)">Oct</span>
<span class="tx" style="left:750.13px;top:393px;font-size:9.4px;font-weight:normal;color:#131722;transform:scale(0.9188,1)">Nov</span>
<span class="tx" style="left:823.53px;top:393px;font-size:9.4px;font-weight:normal;color:#131722;transform:scale(0.9677,1)">Dec</span>
<span class="tx" style="left:907.00px;top:393px;font-size:9.4px;font-weight:bold;color:#131722;transform:scale(0.9173,1)">2026</span>
<span class="tx" style="left:711.71px;top:66px;font-size:10.5px;font-weight:normal;color:#4caf50;transform:scale(1.3430,1)">(iii)</span>
<span class="tx" style="left:523.05px;top:227px;font-size:10.5px;font-weight:normal;color:#4caf50;transform:scale(1.3312,1)">(i)</span>
<span class="tx" style="left:554.20px;top:277px;font-size:10.5px;font-weight:normal;color:#4caf50;transform:scale(1.3077,1)">(ii)</span>
<span class="tx" style="left:789.64px;top:173px;font-size:10.5px;font-weight:normal;color:#4caf50;transform:scale(1.2432,1)">(iv)</span>
<span class="tx" style="left:867.00px;top:23px;font-size:10.5px;font-weight:normal;color:#4caf50;transform:scale(1.0000,1)">(v)</span>
<span class="tx" style="left:235.74px;top:201px;font-size:10px;font-weight:normal;color:#4caf50;transform:scale(1.5841,1)">iii</span>
<span class="tx" style="left:502.20px;top:302px;font-size:10px;font-weight:normal;color:#4caf50;transform:scale(1.3019,1)">iv</span>
<span class="tx" style="left:869.25px;top:15px;font-size:8.7px;font-weight:normal;color:#4caf50;transform:scale(1.5177,1)">v</span>
<span class="tx" style="left:870.06px;top:4px;font-size:12px;font-weight:bold;color:#f23645;transform:scale(0.8528,1)">3</span>
</div></body></html>
